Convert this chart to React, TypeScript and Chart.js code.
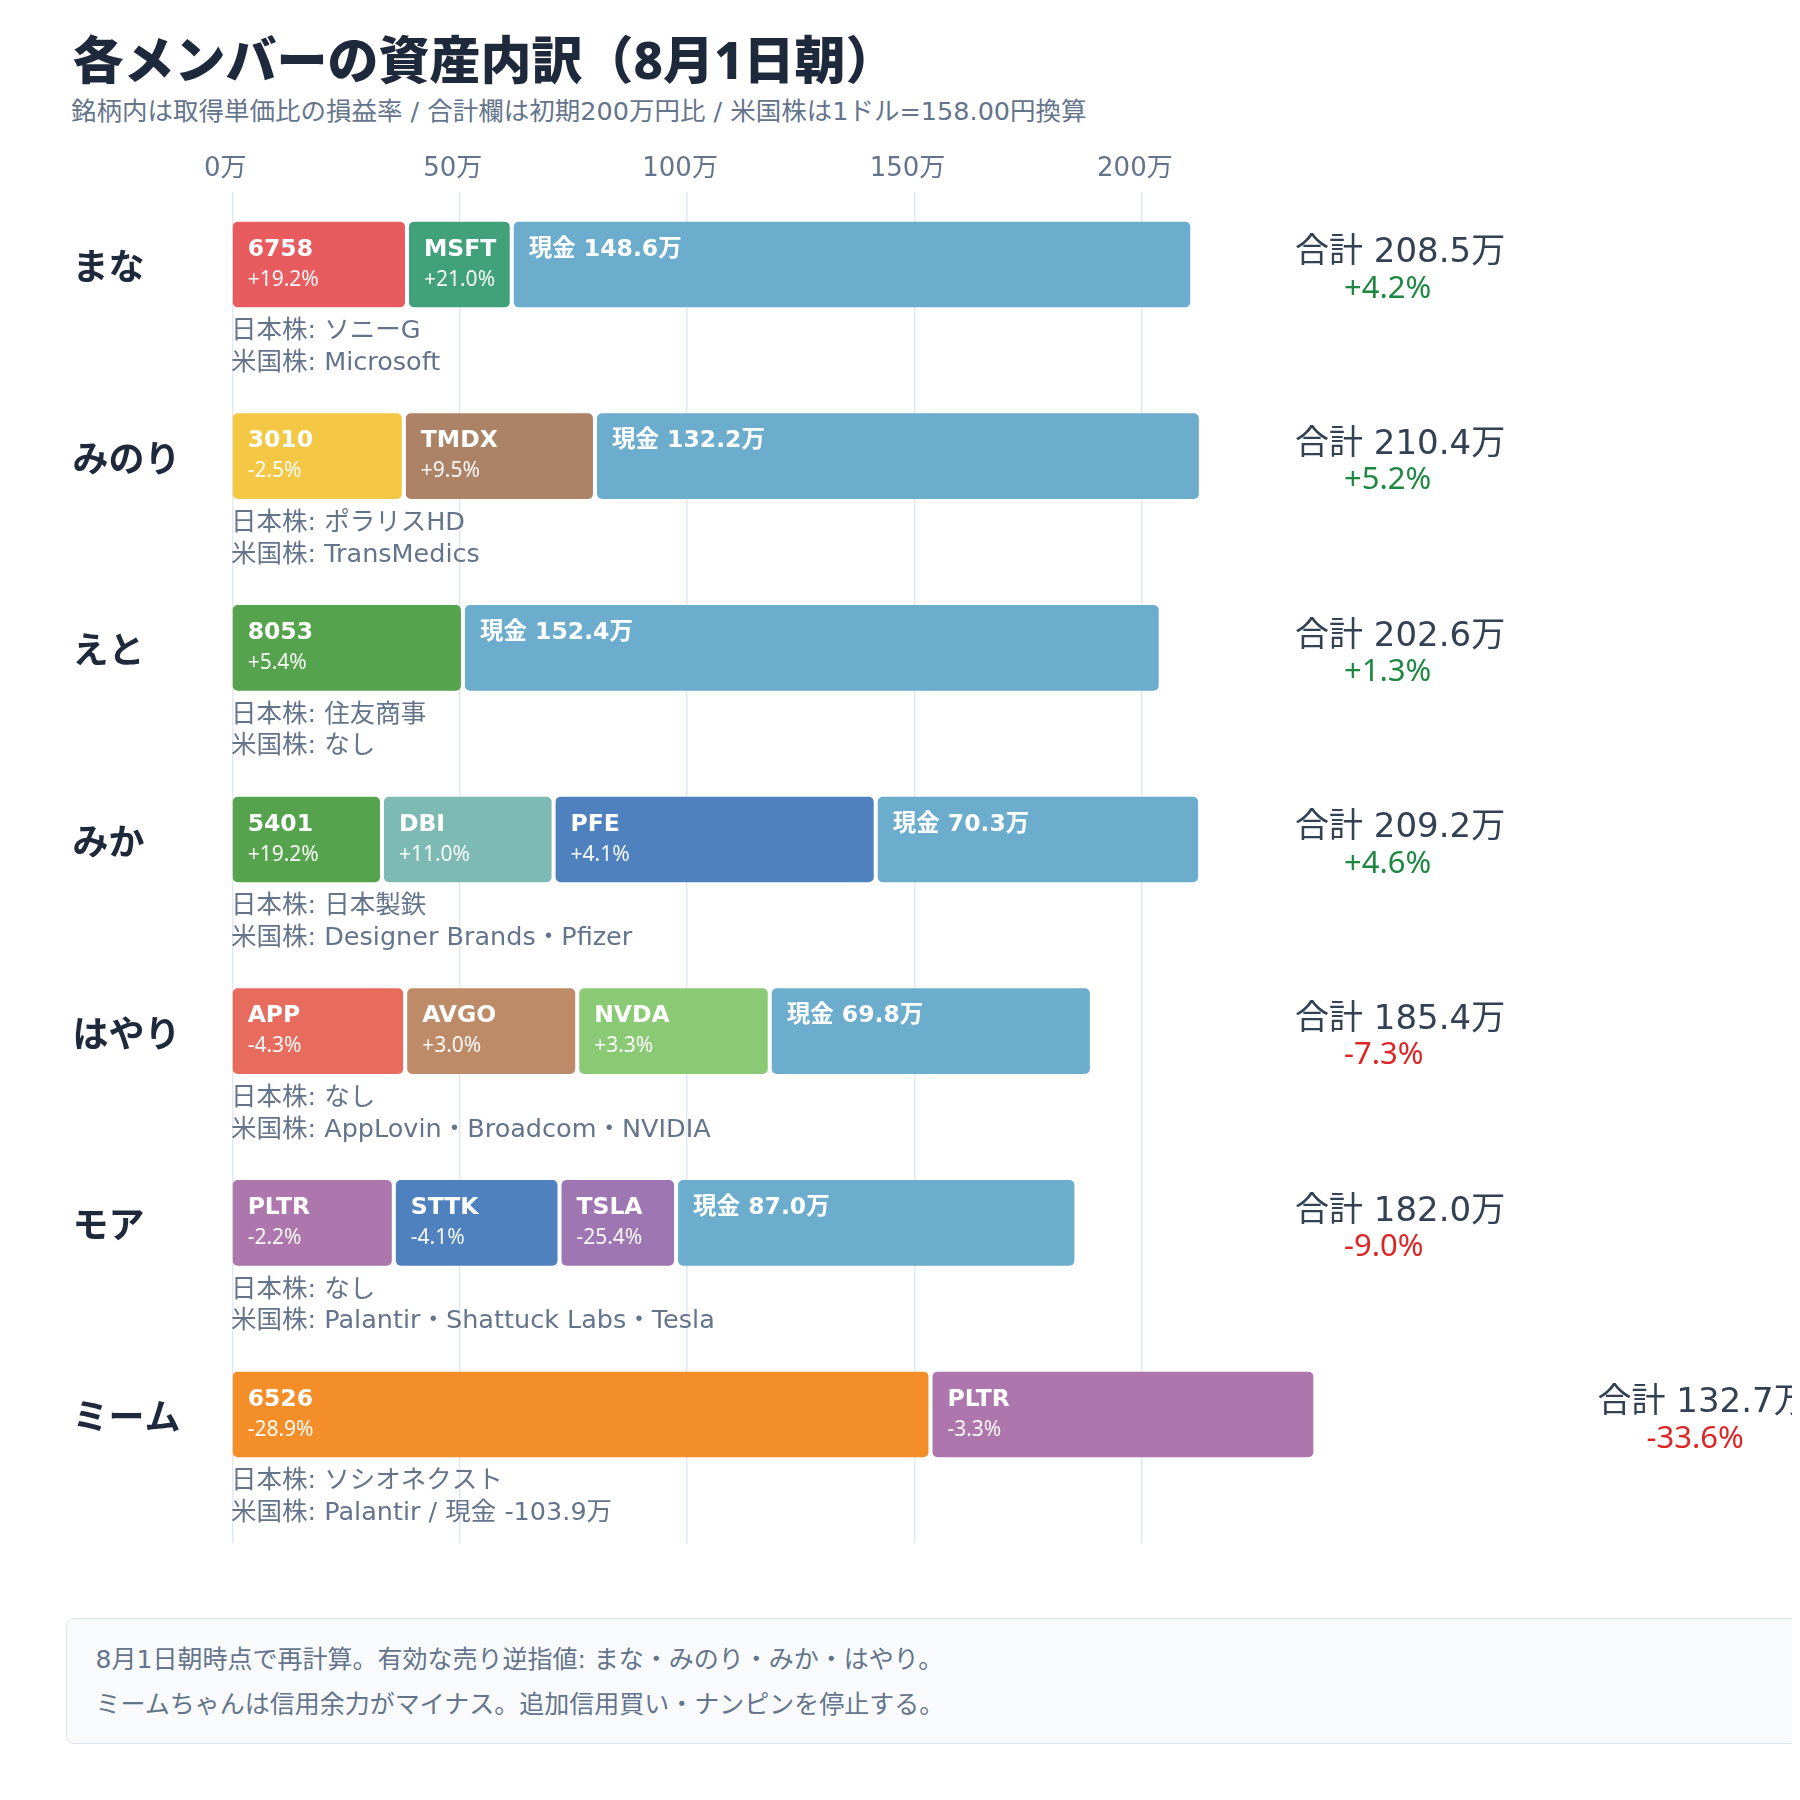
import { useEffect, useRef } from 'react';
import { Chart, registerables } from 'chart.js';

Chart.register(...registerables);

const FONT = '"DejaVu Sans", "Noto Sans CJK JP", sans-serif';
const PCT_FONT = '"Noto Sans", "Noto Sans CJK JP", sans-serif';

const MEMBERS = ['まな', 'みのり', 'えと', 'みか', 'はやり', 'モア', 'ミーム'];
const TICKERS = [
  ['6758', 'MSFT'],
  ['3010', 'TMDX'],
  ['8053'],
  ['5401', 'DBI', 'PFE'],
  ['APP', 'AVGO', 'NVDA'],
  ['PLTR', 'STTK', 'TSLA'],
  ['6526', 'PLTR'],
];
// 評価額 (万円)
const VALUES = [
  [37.9, 22.0],
  [37.2, 41.0],
  [50.2],
  [32.4, 36.7, 69.8],
  [37.5, 36.8, 41.3],
  [35.0, 35.4, 24.6],
  [153.0, 83.6],
];
// 取得単価比 (%)
const RETURNS = [
  [19.2, 21.0],
  [-2.5, 9.5],
  [5.4],
  [19.2, 11.0, 4.1],
  [-4.3, 3.0, 3.3],
  [-2.2, -4.1, -25.4],
  [-28.9, -3.3],
];
const CASH = [148.6, 132.2, 152.4, 70.3, 69.8, 87.0, -103.9];
const TOTALS = [208.5, 210.4, 202.6, 209.2, 185.4, 182.0, 132.7];
const TOTAL_RETURNS = [4.2, 5.2, 1.3, 4.6, -7.3, -9.0, -33.6];
const JP_STOCKS = ['ソニーG', 'ポラリスHD', '住友商事', '日本製鉄', 'なし', 'なし', 'ソシオネクスト'];
const US_STOCKS = [
  'Microsoft',
  'TransMedics',
  'なし',
  'Designer Brands・Pfizer',
  'AppLovin・Broadcom・NVIDIA',
  'Palantir・Shattuck Labs・Tesla',
  'Palantir',
];
const X_TICKS = [0, 50, 100, 150, 200];

const TICKER_COLORS: Record<string, string> = {
  '6758': '#e85c60',
  MSFT: '#40a17a',
  '3010': '#f4c844',
  TMDX: '#ad8367',
  '8053': '#56a34d',
  '5401': '#56a34d',
  DBI: '#7ebab4',
  PFE: '#4e81bd',
  APP: '#e76c5d',
  AVGO: '#be8b68',
  NVDA: '#8aca75',
  PLTR: '#ad76ac',
  STTK: '#4e81bd',
  TSLA: '#9e76b2',
  '6526': '#f48e28',
};
const CASH_COLOR = '#6cadce';

const GAP = 1.03; // white gap between segments, in 万
const BAR = 85;
const TOTAL_COL = 1287;

const fmtPct = (v: number) => (v > 0 ? '+' : '') + v.toFixed(1) + '%';
const sum = (a: number[]) => a.reduce((s, v) => s + v, 0);

function buildDatasets() {
  const sets: any[] = [];
  for (let s = 0; s < 3; s++) {
    const data: any[] = [];
    const colors: string[] = [];
    const info: any[] = [];
    MEMBERS.forEach((_, r) => {
      if (s >= VALUES[r].length) return;
      const start = sum(VALUES[r].slice(0, s)) + s * GAP;
      data.push({ x: [start, start + VALUES[r][s]], y: r });
      colors.push(TICKER_COLORS[TICKERS[r][s]]);
      info.push({ title: TICKERS[r][s], sub: fmtPct(RETURNS[r][s]) });
    });
    sets.push({ data, backgroundColor: colors, info });
  }
  const data: any[] = [];
  const info: any[] = [];
  MEMBERS.forEach((_, r) => {
    if (CASH[r] <= 0) return;
    const start = sum(VALUES[r]) + VALUES[r].length * GAP;
    data.push({ x: [start, start + CASH[r]], y: r });
    info.push({ title: `現金 ${CASH[r].toFixed(1)}万`, sub: '' });
  });
  sets.push({ data, backgroundColor: CASH_COLOR, info });
  return sets;
}

const labelPlugin = {
  id: 'rowLabels',
  afterDatasetsDraw(chart: any) {
    const { ctx, chartArea, scales } = chart;
    const ends = MEMBERS.map(() => scales.x.getPixelForValue(0));
    ctx.save();
    ctx.textAlign = 'left';
    ctx.textBaseline = 'alphabetic';
    chart.data.datasets.forEach((ds: any, di: number) => {
      const meta = chart.getDatasetMeta(di);
      meta.data.forEach((el: any, i: number) => {
        const { x, y, base, height } = el.getProps(['x', 'y', 'base', 'height'], true);
        const left = Math.min(x, base);
        const top = y - height / 2;
        const row = ds.data[i].y;
        ends[row] = Math.max(ends[row], x, base);
        ctx.fillStyle = '#ffffff';
        ctx.font = `700 23.5px ${FONT}`;
        ctx.fillText(ds.info[i].title, left + 14.6, top + 33.7);
        if (ds.info[i].sub) {
          ctx.font = `400 21px ${PCT_FONT}`;
          ctx.fillStyle = 'rgba(255,255,255,0.95)';
          ctx.fillText(ds.info[i].sub, left + 14.6, top + 63.7);
        }
      });
    });

    MEMBERS.forEach((_, r) => {
      const cy = scales.y.getPixelForValue(r);
      const bottom = cy + BAR / 2;
      const us = CASH[r] < 0 ? `${US_STOCKS[r]} / 現金 ${CASH[r].toFixed(1)}万` : US_STOCKS[r];
      ctx.fillStyle = '#64748b';
      ctx.font = `400 25.5px ${FONT}`;
      ctx.fillText(`日本株: ${JP_STOCKS[r]}`, chartArea.left - 1.3, bottom + 31.3);
      ctx.fillText(`米国株: ${us}`, chartArea.left - 1.3, bottom + 63);

      const tx = ends[r] + 40 > TOTAL_COL ? ends[r] + 284.5 : TOTAL_COL;
      ctx.fillStyle = '#334155';
      ctx.font = `400 34px ${FONT}`;
      ctx.fillText(`合計 ${TOTALS[r].toFixed(1)}万`, tx, cy - 2.2);
      ctx.fillStyle = TOTAL_RETURNS[r] >= 0 ? '#1e8741' : '#dc2626';
      ctx.font = `400 31px ${PCT_FONT}`;
      ctx.fillText(fmtPct(TOTAL_RETURNS[r]), tx + 49, cy + 33.3);
    });
    ctx.restore();
  },
};

const AssetChart = () => {
  const canvasRef = useRef<HTMLCanvasElement>(null);

  useEffect(() => {
    if (!canvasRef.current) return;
    const chart = new Chart(canvasRef.current, {
      type: 'bar',
      data: { datasets: buildDatasets() },
      plugins: [labelPlugin],
      options: {
        animation: false,
        responsive: true,
        maintainAspectRatio: false,
        indexAxis: 'y',
        layout: { padding: { left: 64.5, top: 14.3, right: 534.2, bottom: 21.3 } },
        plugins: { legend: { display: false }, tooltip: { enabled: false } },
        datasets: {
          bar: {
            grouped: false,
            barThickness: BAR,
            borderRadius: 5,
            borderSkipped: false,
            borderWidth: 0,
          },
        },
        scales: {
          x: {
            type: 'linear',
            position: 'top',
            min: 0,
            max: 240,
            afterBuildTicks: (s: any) => {
              s.ticks = X_TICKS.map((v) => ({ value: v }));
            },
            afterFit: (s: any) => {
              s.height = 50;
            },
            grid: { color: '#e2e8f0', lineWidth: 1.5, drawTicks: false },
            border: { display: false },
            ticks: {
              padding: 7.7,
              labelOffset: -7,
              color: '#64748b',
              font: { family: FONT, size: 26 },
              callback: (v: any) => `${v}万`,
            },
          },
          y: {
            type: 'linear',
            offset: false,
            min: -0.3768,
            max: 6.6726,
            reverse: true,
            afterBuildTicks: (s: any) => {
              s.ticks = MEMBERS.map((_, i) => ({ value: i }));
            },
            afterFit: (s: any) => {
              s.width = 224.3 - 64.5;
            },
            grid: { display: false },
            border: { display: false },
            ticks: {
              crossAlign: 'far',
              labelOffset: 6,
              color: '#1e293b',
              font: { family: FONT, size: 36, weight: 'bold' },
              callback: (v: any) => MEMBERS[v] ?? '',
            },
          },
        },
      } as any,
    });
    return () => chart.destroy();
  }, []);

  return (
    <div style={{ position: 'absolute', left: 0, top: 120, width: 1850, height: 1440 }}>
      <canvas ref={canvasRef} />
    </div>
  );
};

export default function App() {
  return (
    <div
      style={{
        position: 'relative',
        width: 'calc(100vw - 8px)',
        height: 1780,
        overflow: 'hidden',
        background: '#ffffff',
        fontFamily: FONT,
      }}
    >
      <div
        style={{
          position: 'absolute',
          left: 64.5,
          top: 25.7,
          fontFamily: PCT_FONT,
          fontSize: 51,
          lineHeight: '51px',
          fontWeight: 800,
          color: '#1e293b',
          whiteSpace: 'nowrap',
        }}
      >
        各メンバーの資産内訳（8月1日朝）
      </div>
      <div
        style={{
          position: 'absolute',
          left: 63,
          top: 90.8,
          fontSize: 25.5,
          lineHeight: '25.5px',
          color: '#64748b',
          whiteSpace: 'nowrap',
        }}
      >
        銘柄内は取得単価比の損益率 / 合計欄は初期200万円比 / 米国株は1ドル=158.00円換算
      </div>
      <AssetChart />
      <div
        style={{
          position: 'absolute',
          left: 57.7,
          top: 1609.7,
          width: 2000,
          height: 126.3,
          boxSizing: 'border-box',
          border: '1.5px solid #dbe4ee',
          borderRadius: 8,
          background: '#f8fafc',
        }}
      />
      {[
        '8月1日朝時点で再計算。有効な売り逆指値: まな・みのり・みか・はやり。',
        'ミームちゃんは信用余力がマイナス。追加信用買い・ナンピンを停止する。',
      ].map((line, i) => (
        <div
          key={i}
          style={{
            position: 'absolute',
            left: 87.6,
            top: 1638.8 + i * 45,
            fontSize: 25,
            lineHeight: '25px',
            color: '#64748b',
            whiteSpace: 'nowrap',
          }}
        >
          {line}
        </div>
      ))}
    </div>
  );
}
